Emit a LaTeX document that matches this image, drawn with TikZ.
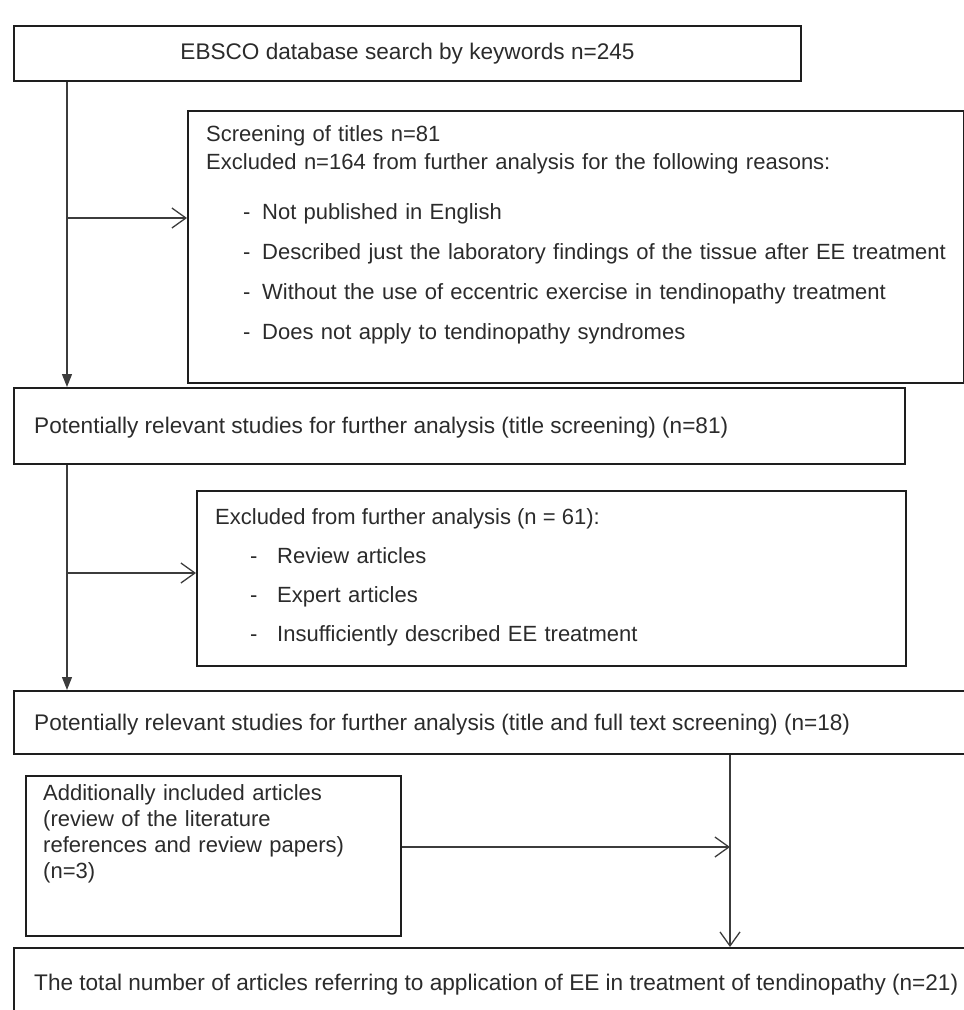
\documentclass[tikz,border=0pt]{standalone}
\usepackage{fontspec}
\setmainfont{Liberation Sans}
\usetikzlibrary{arrows.meta}
\definecolor{ink}{HTML}{1E1E1E}
\definecolor{inktext}{HTML}{2B2B2B}
\definecolor{wire}{HTML}{3C3C3C}
\newcommand{\fs}{\fontsize{22pt}{26pt}\selectfont}
\newcommand{\fsw}{\fontsize{22.6pt}{26pt}\selectfont}
\newcommand{\itemdash}[1]{\makebox[#1][l]{-}}
\tikzset{
  box/.style={draw=ink, line width=2pt, anchor=north west, inner sep=0pt},
  txt/.style={anchor=base west, inner sep=0pt, text=inktext, align=left},
  flow/.style={-{Triangle[length=13pt,width=10pt]}, line width=1.3pt, color=wire},
  side/.style={-{Straight Barb[length=14pt,width=20pt]}, line width=1.3pt, color=wire},
}

\begin{document}
\begin{tikzpicture}[x=1pt, y=-1pt, font=\fs]
    \useasboundingbox (0,0) rectangle (964,1010);
    \coordinate (spine) at (67,0);
    % boxes
    \node[box, minimum width=787pt, minimum height=55pt, text=inktext, font=\fsw] (search) at (13,25) {EBSCO database search by keywords n=245};
    \node[box, minimum width=776pt, minimum height=272pt] (screen) at (187,110) {};
    \node[box, minimum width=891pt, minimum height=76pt] (relevA) at (13,387) {};
    \node[box, minimum width=709pt, minimum height=175pt] (excl) at (196,490) {};
    \node[box, minimum width=970pt, minimum height=63pt] (relevB) at (13,690) {};
    \node[box, minimum width=375pt, minimum height=160pt] (more) at (25,775) {};
    \node[box, minimum width=970pt, minimum height=75pt] (total) at (13,947) {};
    % texts
    \node[txt, text width=740pt, font=\fontsize{22pt}{28pt}\selectfont] (screenHd) at (206,141)
      {Screening of titles n=81\\Excluded n=164 from further analysis for the following reasons:};
    \node[txt, text width=740pt, font=\fontsize{22pt}{40pt}\selectfont] (screenList) at (243,219)
      {\itemdash{19pt}Not published in English\\
       \itemdash{19pt}Described just the laboratory findings of the tissue after EE treatment\\
       \itemdash{19pt}Without the use of eccentric exercise in tendinopathy treatment\\
       \itemdash{19pt}Does not apply to tendinopathy syndromes};
    \node[txt, font=\fsw] (relevAtxt) at (34,433) {Potentially relevant studies for further analysis (title screening) (n=81)};
    \node[txt] (exclHd) at (215,524) {Excluded from further analysis (n = 61):};
    \node[txt, text width=600pt, font=\fontsize{22pt}{39pt}\selectfont] (exclList) at (250,563)
      {\itemdash{27pt}Review articles\\
       \itemdash{27pt}Expert articles\\
       \itemdash{27pt}Insufficiently described EE treatment};
    \node[txt, font=\fsw] (relevBtxt) at (34,730) {Potentially relevant studies for further analysis (title and full text screening) (n=18)};
    \node[txt, text width=350pt, font=\fontsize{22pt}{26pt}\selectfont] (moretxt) at (43,800)
      {Additionally included articles\\(review of the literature\\references and review papers)\\(n=3)};
    \node[txt, font=\fsw] (totaltxt) at (34,990) {The total number of articles referring to application of EE in treatment of tendinopathy (n=21)};
    % connectors
    \draw[flow] (spine |- search.south) -- (spine |- relevA.north);
    \coordinate (tap1) at (67,218);
    \draw[side] (tap1) -- (tap1 -| screen.west);
    \draw[flow] (spine |- relevA.south) -- (spine |- relevB.north);
    \coordinate (tap2) at (67,573);
    \draw[side] (tap2) -- (tap2 -| excl.west);
    \coordinate (merge) at (730,847);
    \draw[side] (merge -| more.east) -- (merge);
    \draw[side] (merge |- relevB.south) -- (merge |- total.north);
\end{tikzpicture}
\end{document}
